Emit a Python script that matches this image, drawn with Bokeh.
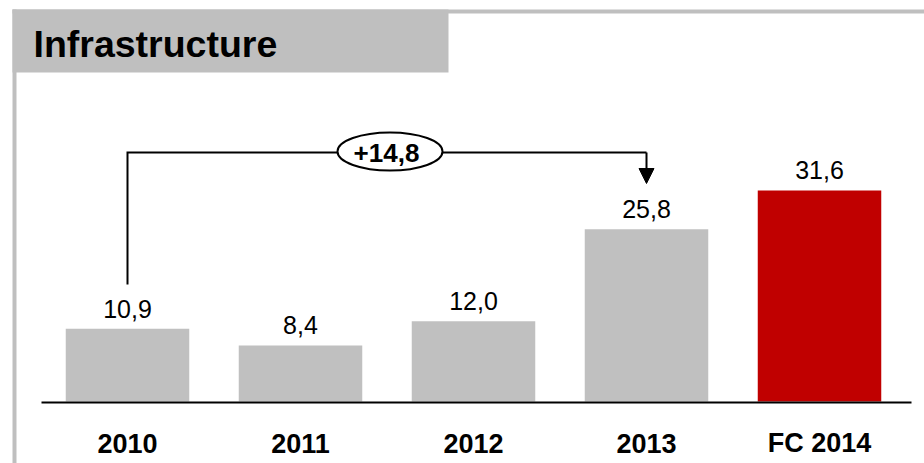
from bokeh.plotting import figure
from bokeh.models import Range1d, Arrow, NormalHead
from bokeh.core.properties import value
from bokeh.embed import file_html
from bokeh.resources import INLINE

# Data
categories = ["2010", "2011", "2012", "2013", "FC 2014"]
values = [10.9, 8.4, 12.0, 25.8, 31.6]
bar_colors = ["#c0c0c0", "#c0c0c0", "#c0c0c0", "#c0c0c0", "#c00000"]
delta_label = "+14,8"
delta_from, delta_to = 0, 3
title_text = "Infrastructure"

W, H = 924, 463
SLOT = 173.0        # pixels per category slot
X0 = 127.0          # pixel centre of first category
BASE = 401.0        # pixel row of the zero line
PPU = 6.68          # pixels per value unit


def px_x(px):
    return (px - X0) / SLOT


def px_y(py):
    return (BASE - py) / PPU


p = figure(width=W, height=H, output_backend="svg", toolbar_location=None,
           x_range=Range1d(px_x(0), px_x(W)), y_range=Range1d(px_y(H), px_y(0)),
           min_border=0, min_border_left=0, min_border_right=0,
           min_border_top=0, min_border_bottom=0)
p.axis.visible = False
p.grid.visible = False
p.outline_line_color = None
p.background_fill_color = "white"
p.border_fill_color = "white"

FONT = value("Liberation Sans")
GRAY = "#bfbfbf"

# Panel frame: top rule, left rule and the title tab
p.quad(left=px_x(12), right=px_x(W), top=px_y(9), bottom=px_y(13),
       fill_color=GRAY, line_color=None)
p.quad(left=px_x(12), right=px_x(16), top=px_y(9), bottom=px_y(H),
       fill_color=GRAY, line_color=None)
p.quad(left=px_x(12), right=px_x(448), top=px_y(9), bottom=px_y(72),
       fill_color=GRAY, line_color=None)
p.text(x=[px_x(33)], y=[px_y(43)], text=[title_text], text_font=FONT,
       text_font_size="37.5px", text_font_style="bold", text_color="#000000",
       text_baseline="middle", text_align="left")

# Bars
idx = list(range(len(categories)))
p.vbar(x=idx, top=values, bottom=0, width=123.5 / SLOT,
       fill_color=bar_colors, line_color=None)

# Zero line
p.line(x=[px_x(41), px_x(911)], y=[px_y(402), px_y(402)],
       line_color="black", line_width=2)

# Value labels
labels = [f"{v:.1f}".replace(".", ",") for v in values]
p.text(x=idx, y=values, text=labels, text_font=FONT, text_font_size="25px",
       text_color="#000000", text_align="center", text_baseline="middle",
       y_offset=-20)

# Category labels
p.text(x=idx, y=[px_y(442.5)] * len(idx), text=categories, text_font=FONT,
       text_font_size="27px", text_font_style="bold", text_color="#000000",
       text_align="center", text_baseline="middle")

# Growth bracket from 2010 to 2013
y_top = px_y(152)
y_low = px_y(284)
p.line(x=[delta_from, delta_from, delta_to], y=[y_low, y_top, y_top],
       line_color="black", line_width=2, line_join="miter")
p.add_layout(Arrow(end=NormalHead(size=15, fill_color="black", line_color="black"),
                   x_start=delta_to, y_start=y_top, x_end=delta_to, y_end=px_y(183),
                   line_color="black", line_width=2))
ex = px_x(389.5)
p.ellipse(x=[ex], y=[px_y(151)], width=[105], height=[38],
          width_units="screen", height_units="screen",
          fill_color="white", line_color="black", line_width=2)
p.text(x=[ex - 3.5 / SLOT], y=[px_y(152)], text=[delta_label], text_font=FONT,
       text_font_size="26px", text_font_style="bold", text_color="#000000",
       text_align="center", text_baseline="middle")

open("out.html", "w").write(file_html(p, INLINE))
